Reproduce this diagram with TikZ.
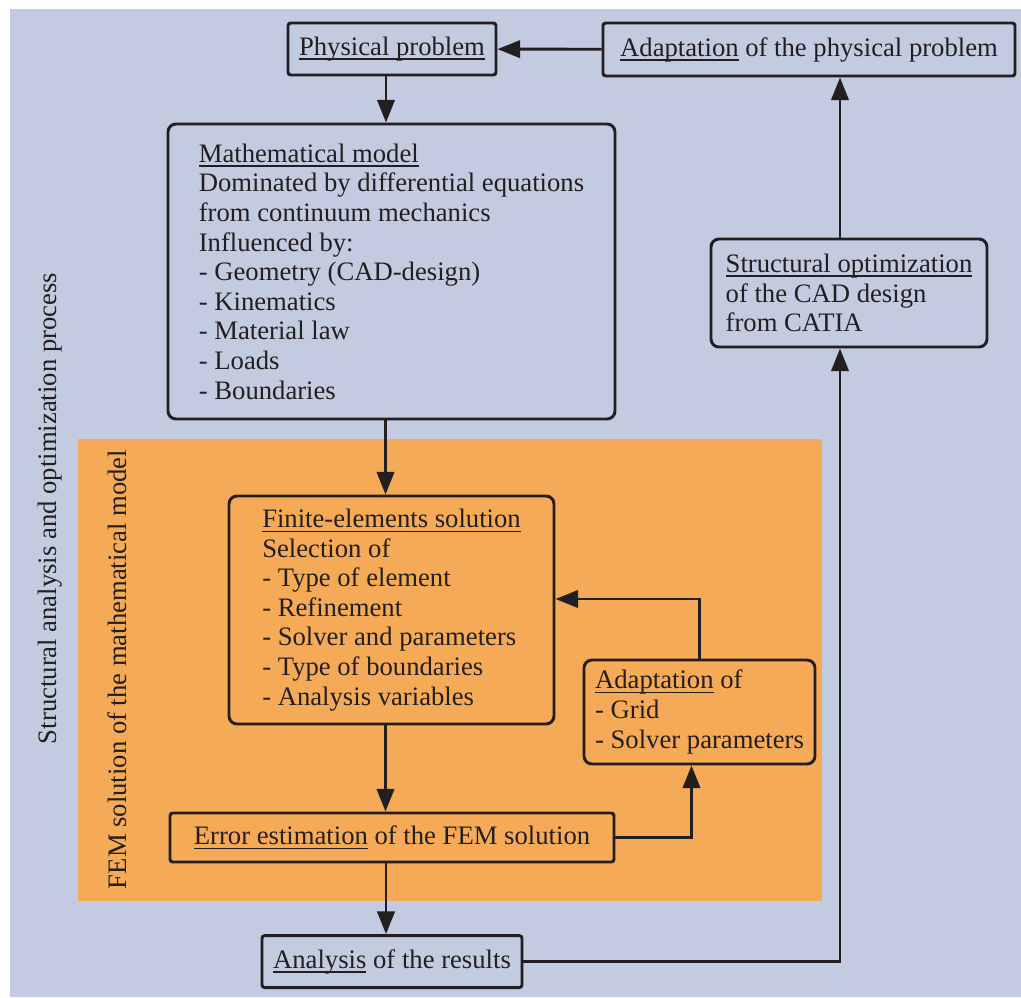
\documentclass[tikz,border=0pt]{standalone}
\usepackage{fontspec}
\setmainfont{Liberation Serif}
\usetikzlibrary{arrows.meta,positioning}
\definecolor{bgblue}{RGB}{195,203,224}
\definecolor{femorange}{RGB}{245,170,87}
\definecolor{ink}{RGB}{35,31,32}
\newcommand{\undl}[1]{\setbox0=\hbox{#1}\rlap{\rule[-3.4pt]{\wd0}{1.2pt}}\box0\relax}

\begin{document}
\begin{tikzpicture}[x=0.75pt, y=-0.75pt,
      >={Triangle[length=17pt,width=13pt]},
      every node/.append style={align=left, text=ink, font=\fontsize{20}{22.2}\selectfont},
      box/.style={draw=ink, line width=2.2pt, rounded corners=2pt, inner sep=0pt},
      bigbox/.style={box, rounded corners=6pt},
      flow/.style={draw=ink, line width=2.2pt}]

     \useasboundingbox (0,0) rectangle (1021,997);
     \fill[bgblue] (10,9) rectangle (1021,997);
     \fill[femorange] (78,439) rectangle (822,900.5);

     \node [box, minimum width=156pt, minimum height=39pt] (phys) at (392,49) {\undl{Physical problem}};
     \node [box, minimum width=309pt, minimum height=39.75pt] (adapt) at (809,49.5) {\undl{Adaptation} of the physical problem};
     \node [bigbox, minimum width=335.25pt, minimum height=221.25pt] (math) at (391.5,271.5)
           {\undl{Mathematical model}\\Dominated by differential equations\\from continuum mechanics\\Influenced by:\\- Geometry (CAD-design)\\- Kinematics\\- Material law\\- Loads\\- Boundaries};
     \node [bigbox, minimum width=243.75pt, minimum height=171pt] (fe) at (391.5,610)
           {\undl{Finite-elements solution}\\Selection of\\- Type of element\\- Refinement\\- Solver and parameters\\- Type of boundaries\\- Analysis variables};
     \node [bigbox, minimum width=173.25pt, minimum height=78pt] (adaptof) at (699.5,712)
           {\undl{Adaptation} of\\- Grid\\- Solver parameters};
     \node [bigbox, minimum width=207pt, minimum height=81pt] (struct) at (849,293)
           {\undl{Structural optimization}\\of the CAD design\\from CATIA};
     \node [box, minimum width=333pt, minimum height=36.75pt] (err) at (392,837.5) {\undl{Error estimation} of the FEM solution};
     \node [box, minimum width=195pt, minimum height=39pt, below=53pt of err] (res) {\undl{Analysis} of the results};
     \coordinate (rcol) at (840,0);

     \node [rotate=90] (process) at (50,508.5) {Structural analysis and optimization process};
     \node [rotate=90] (femsol) at (117.5,669.5) {FEM solution of the mathematical model};

     \draw[flow,->] (adapt) -- (phys);
     \draw[flow,->] ([xshift=-4.5pt]phys.south) -- ([xshift=-4.5pt]phys.south |- math.north);
     \draw[flow,->] ([xshift=-4.5pt]math.south) -- ([xshift=-4.5pt]math.south |- fe.north);
     \draw[flow,->] ([xshift=-4.5pt]fe.south) -- ([xshift=-4.5pt]fe.south |- err.north);
     \draw[flow,->] ([xshift=-4.5pt]err.south) -- ([xshift=-4.5pt]err.south |- res.north);
     \draw[flow,->] (err.east) -| ([xshift=-6pt]adaptof.south);
     \draw[flow,->] (adaptof.north) |- ([yshift=8.25pt]fe.east);
     \draw[flow,->] (res.east) -| (rcol |- struct.south);
     \draw[flow,->] (rcol |- struct.north) -- (rcol |- adapt.south);
  \end{tikzpicture}
\end{document}
